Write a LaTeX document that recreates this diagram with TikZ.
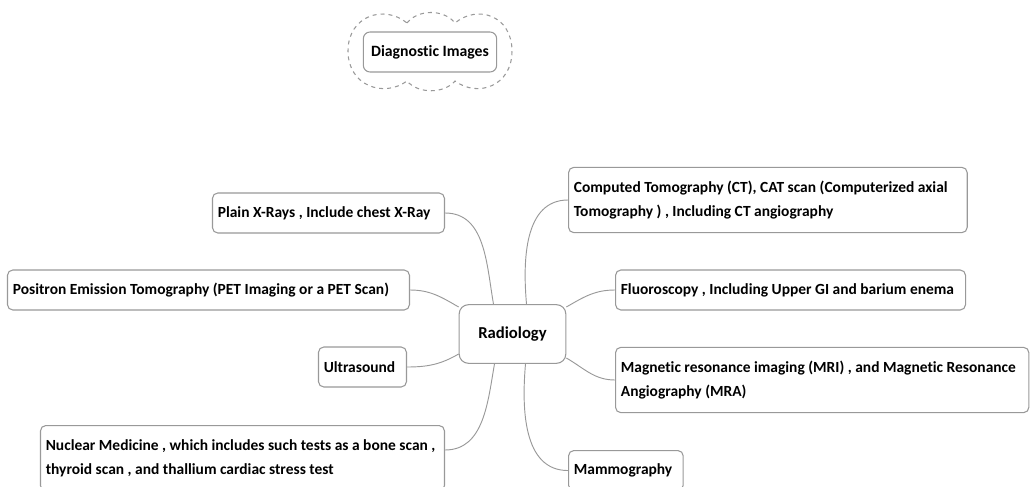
\documentclass[tikz,border=0pt]{standalone}
\usepackage{fontspec}
\setmainfont{Carlito}[Ligatures=NoCommon]
\setlength{\parindent}{0pt}
\usetikzlibrary{calc,positioning}

\tikzset{
  topic/.style={draw=gray!80, line width=0.8pt, rounded corners=4pt, fill=white,
    anchor=west, align=flush left, inner xsep=4pt, minimum height=30pt,
    font=\fontsize{11.6}{18.5}\selectfont\bfseries},
  link/.style={draw=gray!80, line width=0.7pt}
}

\begin{document}
\begin{tikzpicture}[x=0.75pt,y=0.75pt]

    \useasboundingbox (0,0) rectangle (1030,486);
    \clip (0,0) rectangle (1030,486);

    % cloud round the title
    \draw[gray!80, dashed, line width=0.8pt]
      (407,463) .. controls (418,477) and (444,477) .. (455,463)
      .. controls (478,482) and (512,470) .. (512,435)
      .. controls (512,400) and (478,388) .. (455,405)
      .. controls (444,392) and (418,392) .. (407,405)
      .. controls (384,388) and (348,400) .. (348,435)
      .. controls (348,470) and (384,482) .. (407,463) -- cycle;
    \node[topic, anchor=center, rounded corners=5pt, minimum width=100pt,
      font=\fontsize{11.8}{14}\selectfont\bfseries] (diag) at (430,434) {Diagnostic Images};

    % central topic
    \node[topic, anchor=center, rounded corners=7pt, minimum width=80pt, minimum height=44pt,
      font=\fontsize{12.5}{15}\selectfont\bfseries] (rad) at (512.5,152) {Radiology};

    % left side
    \node[topic, anchor=east, text width=166pt] (xray) at (445,273) {Plain X-Rays , Include chest X-Ray};
    \node[topic, anchor=east, text width=293.5pt] (pet) at (410,196) {Positron Emission Tomography (PET Imaging or a PET Scan)};
    \node[topic, anchor=east, text width=58pt] (us) at (407,119) {Ultrasound};
    \node[topic, anchor=north east, text width=295pt, minimum height=49pt] (nuc) at (445,61) {Nuclear Medicine , which includes such tests as a bone scan ,\\thyroid scan , and thallium cardiac stress test};

    % right side
    \node[topic, text width=291pt, minimum height=49pt] (ct) at (568,286) {Computed Tomography (CT), CAT scan (Computerized axial\\Tomography ) , Including CT angiography};
    \node[topic, text width=254.5pt] (fl) at (615,196) {Fluoroscopy , Including Upper GI and barium enema};
    \node[topic, text width=302pt, minimum height=49pt] (mri) at (615,106) {Magnetic resonance imaging (MRI) , and Magnetic Resonance\\Angiography (MRA)};
    \node[topic, anchor=north west, text width=78pt] (mam) at (568,36) {Mammography};

    % branches
    \draw[link] (xray.east) to[out=0,in=100] ($(rad.north)+(-19,0)$);
    \draw[link] (pet.east) to[out=0,in=150] ($(rad.west)+(0,27)$);
    \draw[link] (us.east) to[out=0,in=210] ($(rad.west)+(0,-20)$);
    \draw[link] ($(nuc.north east)+(0,-25)$) to[out=0,in=-100] ($(rad.south)+(-18,0)$);
    \draw[link] ($(rad.north)+(14,0)$) to[out=95,in=180] (ct.west);
    \draw[link] ($(rad.east)+(0,27)$) to[out=30,in=180] (fl.west);
    \draw[link] ($(rad.east)+(0,-24)$) to[out=-30,in=180] (mri.west);
    \draw[link] ($(rad.south)+(13,0)$) to[out=-95,in=180] (mam.west);

\end{tikzpicture}
\end{document}
